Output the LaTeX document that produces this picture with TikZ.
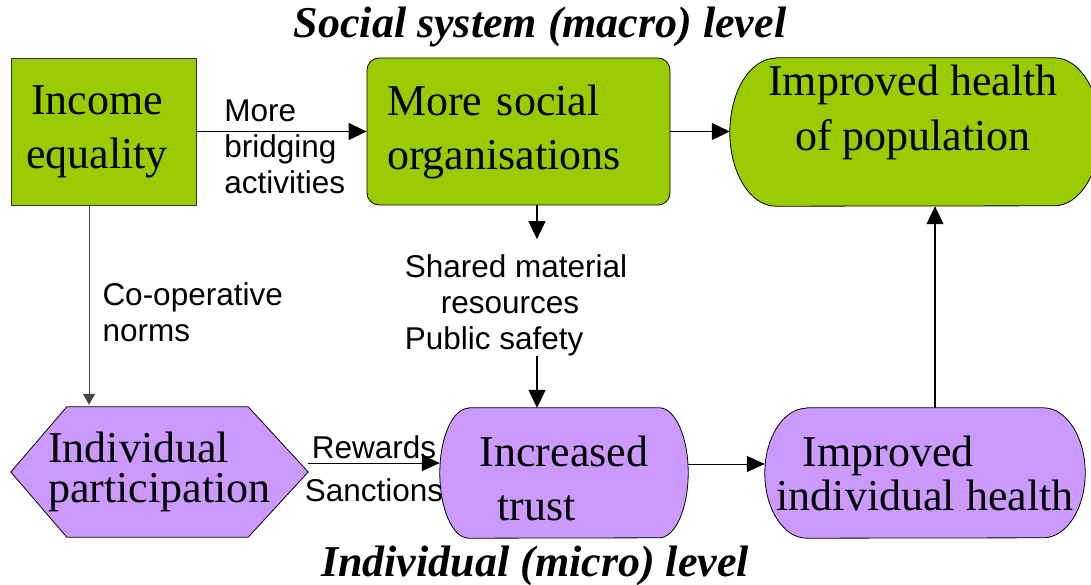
\documentclass[tikz,border=0pt]{standalone}
\usepackage{fontspec}
\setmainfont{Liberation Serif}
\setsansfont{Liberation Sans}
\usepackage{tikz}
\usetikzlibrary{arrows.meta, positioning, calc, backgrounds}
\definecolor{boxgreen}{RGB}{153,204,0}
\definecolor{boxlilac}{RGB}{204,153,255}
\definecolor{normgrey}{RGB}{70,70,70}
\tikzset{
  block/.style={rectangle, inner sep=0pt, align=center,
    minimum height=147pt, font=\fontsize{44}{54}\selectfont},
  greenblock/.style={block, draw=black, fill=boxgreen, line width=0.8pt},
  termblock/.style={block, minimum height=130pt},
  edgetext/.style={font=\sffamily\fontsize{31.5}{36}\selectfont, align=left, inner sep=0pt},
  leveltext/.style={font=\fontsize{44}{50}\selectfont\bfseries\itshape, inner sep=0pt, anchor=base},
  arrow/.style={-{Triangle[length=18pt, width=17pt]}, line width=1.3pt},
  thinarrow/.style={-{Triangle[length=18pt, width=16pt]}, line width=1pt},
  normarrow/.style={-{Triangle[length=11pt, width=12pt]}, line width=1pt, draw=normgrey}
}

\begin{document}
\begin{tikzpicture}[x=1pt, y=-1pt]
  \useasboundingbox (0,0) rectangle (1091,585);

  % social system level
  \node[leveltext] (macro) at (540,38) {Social system (macro) level};
  \node[greenblock, minimum width=185pt, draw=black!80] (ineq) at (103.5,131.5) {Income\hspace*{13pt}\\equality\hspace*{13pt}};
  \node[greenblock, minimum width=303pt, text width=263pt, align=left, rounded corners=12pt] (orgs) at (518.5,131.5) {More social\\organisations};
  \node[termblock, minimum width=370pt, minimum height=148pt,
    label={[font=\fontsize{44}{55}\selectfont, align=center, xshift=-2pt, yshift=20pt]center:{Improved health\\of population}}] (pop) at (915,132) {};

  % individual level
  \node[termblock, minimum width=297pt, font=\fontsize{44}{40}\selectfont, align=left] (part) at (159.5,472) {Individual\\participation};
  \node[termblock, minimum width=248pt, align=left] (trust) at (564,473) {\rule{0pt}{42pt}Increased\\\hspace*{18pt}trust};
  \node[termblock, minimum width=320pt, font=\fontsize{44}{44}\selectfont, align=left] (indiv) at (925,473) {\hspace*{26pt}Improved\\individual health};
  \node[leveltext] (micro) at (535,576) {Individual (micro) level};

  % outlines of the hexagon and the terminators
  \begin{scope}[on background layer]
    \draw[line width=0.8pt, fill=boxlilac] (part.west) -- ([xshift=56pt]part.north west) -- ([xshift=-60pt]part.north east)
      -- (part.east) -- ([xshift=-60pt]part.south east) -- ([xshift=56pt]part.south west) -- cycle;
    \foreach \n/\rx/\ry/\col in {pop/46/74/boxgreen, trust/29/65/boxlilac, indiv/42/65/boxlilac}
      \draw[line width=0.8pt, fill=\col] ([xshift=\rx pt]\n.north west) -- ([xshift=-\rx pt]\n.north east)
        arc[start angle=90, end angle=-90, x radius=\rx pt, y radius=\ry pt]
        -- ([xshift=\rx pt]\n.south west)
        arc[start angle=270, end angle=90, x radius=\rx pt, y radius=\ry pt] -- cycle;
  \end{scope}

  % connectors
  \draw[arrow] (ineq.east) -- (orgs.west)
    node[edgetext, pos=0.16, anchor=west, yshift=-15.5pt] (bridge) {More\\bridging\\activities};
  \draw[arrow] (orgs.east) -- (orgs.east -| pop.west);
  \draw[normarrow, shorten >=2pt] ([xshift=-14.5pt]ineq.south) -- ([xshift=-14.5pt]ineq.south |- part.north)
    node[edgetext, pos=0.53, right=13pt] (coop) {Co-operative\\norms};
  \node[edgetext] (res) at (516,305) {Shared material\\\hspace*{36pt}resources\\Public safety};
  \draw[arrow, shorten >=15pt] ([xshift=18.5pt]orgs.south) -- ([xshift=18.5pt]orgs.south |- res.north);
  \draw[arrow] ([xshift=18.5pt]orgs.south |- res.south) -- ([xshift=18.5pt]orgs.south |- trust.north);
  \draw[thinarrow] ([yshift=9pt]part.east) -- ([yshift=9pt]part.east -| trust.west)
    node[edgetext, midway, above=4pt] (rew) {Rewards}
    node[edgetext, midway, below=15pt] (sanc) {Sanctions};
  \draw[thinarrow] ([yshift=9pt]trust.east) -- ([yshift=9pt]trust.east -| indiv.west);
  \draw[arrow] ([xshift=10pt]indiv.north) -- ([xshift=10pt]indiv.north |- pop.south);
\end{tikzpicture}
\end{document}
